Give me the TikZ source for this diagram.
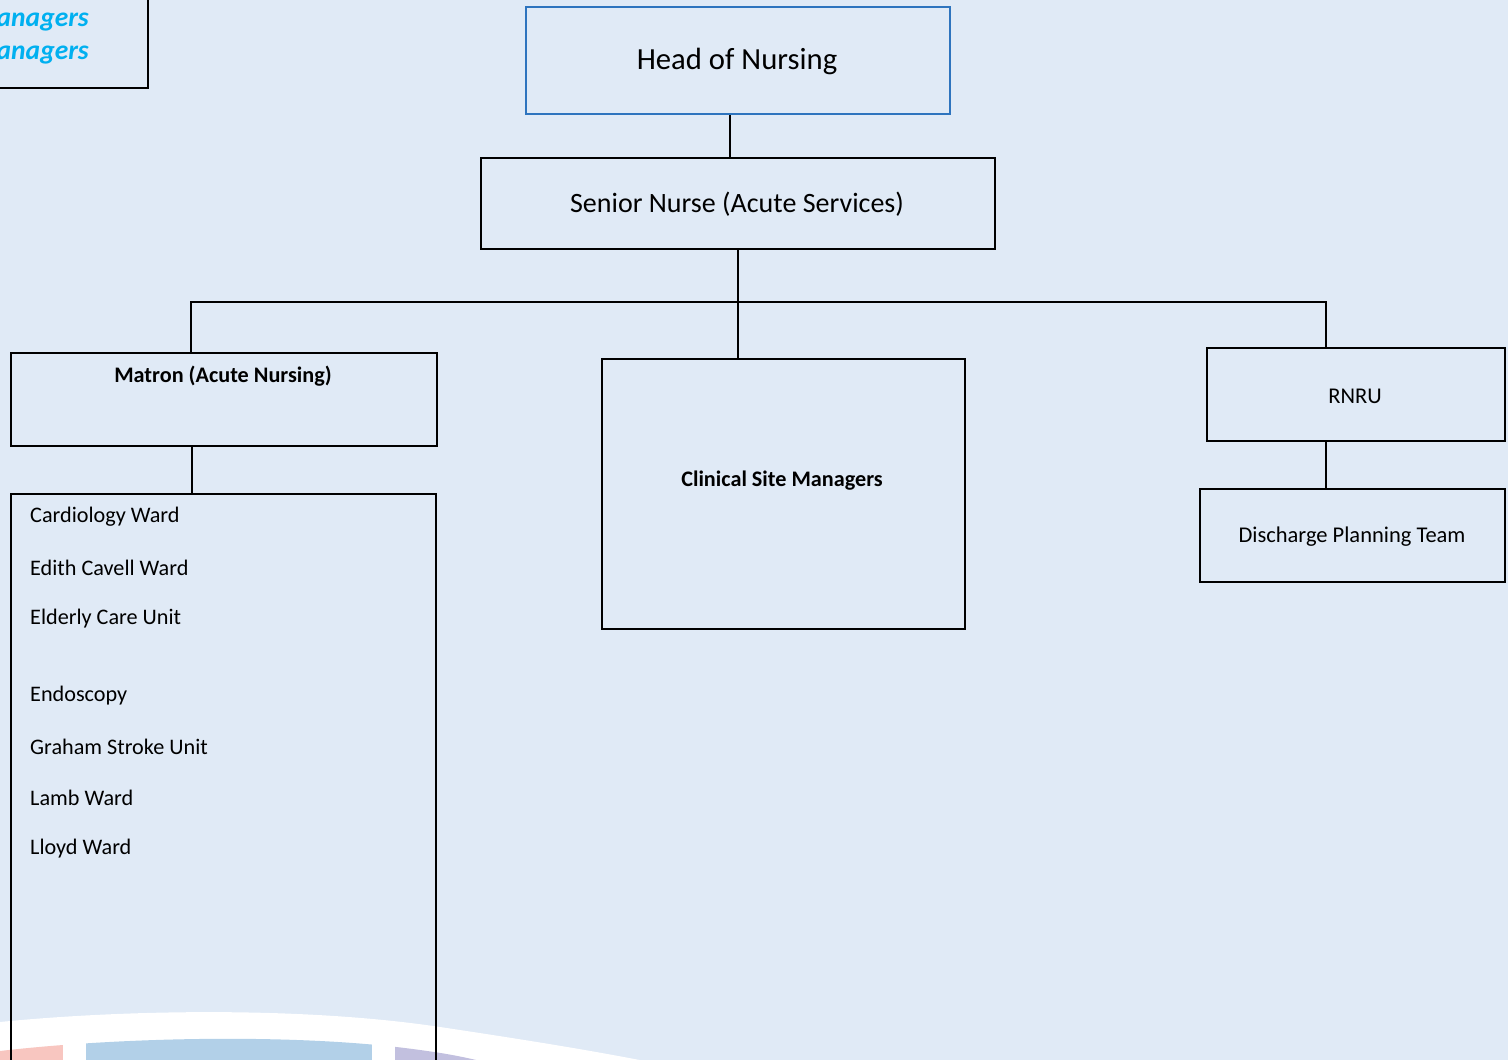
\documentclass[tikz,border=0pt]{standalone}
\usepackage{fontspec}
\setmainfont{Carlito}
\definecolor{bgc}{RGB}{224,234,246}
\definecolor{hblue}{RGB}{46,116,190}
\definecolor{cyantext}{RGB}{0,176,240}
\definecolor{pinkbar}{RGB}{248,198,192}
\definecolor{bluebar}{RGB}{178,208,232}
\definecolor{purplebar}{RGB}{194,192,223}
\tikzset{
  orgbox/.style={draw=black, line width=2pt, inner sep=0pt, anchor=north west},
  conn/.style={draw=black, line width=2pt},
  bigtext/.style={font=\fontsize{30.7}{36}\selectfont, inner sep=0pt},
  boldtext/.style={font=\fontsize{22.2}{26}\selectfont\bfseries, inner sep=0pt},
  plaintext/.style={font=\fontsize{22.5}{26}\selectfont, inner sep=0pt},
  item/.style={font=\fontsize{22.2}{26}\selectfont, inner sep=0pt, anchor=west},
  cyanitalic/.style={anchor=base east, inner sep=0pt, text=cyantext, font=\fontsize{27.5}{32}\selectfont\bfseries\itshape},
}
\begin{document}
\begin{tikzpicture}[x=1pt,y=-1pt]
\useasboundingbox (0,0) rectangle (1508,1060);
\clip (0,0) rectangle (1508,1060);
\fill[bgc] (0,0) rectangle (1508,1060);
% white band
\fill[white] (0,1022) .. controls (120,1010) and (300,1006) .. (440,1027)
  .. controls (540,1042) and (600,1052) .. (660,1064) -- (660,1080) -- (0,1080) -- cycle;
% coloured bars
\begin{scope}
\clip (0,1051) .. controls (120,1037) and (300,1033) .. (420,1050)
  .. controls (450,1054) and (470,1058) .. (500,1066) -- (500,1080) -- (0,1080) -- cycle;
\fill[pinkbar] (0,1000) rectangle (63,1080);
\fill[bluebar] (86,1000) rectangle (372,1080);
\fill[purplebar] (395,1000) rectangle (640,1080);
\end{scope}
% top-left partial box
\draw[conn] (-5,88) -- (148,88) -- (148,-5);
\node[cyanitalic] (tl1) at (89,27) {anagers};
\node[cyanitalic] (tl2) at (89,59) {anagers};
% boxes
\node[orgbox, draw=hblue, minimum width=424pt, minimum height=107pt] (hon) at (525,6) {};
\node[bigtext] (honT) at (737,61) {Head of Nursing};
\node[orgbox, minimum width=514pt, minimum height=91pt] (sn) at (480,157) {};
\node[bigtext, font=\fontsize{28}{33}\selectfont] (snT) at (737,204) {Senior Nurse (Acute Services)};
\node[orgbox, minimum width=426pt, minimum height=93pt] (mat) at (10,352) {};
\node[boldtext] (matT) at (223,376) {Matron (Acute Nursing)};
\node[orgbox, minimum width=363pt, minimum height=270pt] (csm) at (601,358) {};
\node[boldtext] (csmT) at (782,481) {Clinical Site Managers};
\node[orgbox, minimum width=298pt, minimum height=93pt] (rnru) at (1206,347) {};
\node[plaintext] (rnruT) at (1355,396) {RNRU};
\node[orgbox, minimum width=305pt, minimum height=93pt] (dpt) at (1199,488) {};
\node[plaintext] (dptT) at (1352,537) {Discharge Planning Team};
\node[orgbox, minimum width=425pt, minimum height=600pt] (wards) at (10,493) {};
\node[item] (w1) at (30,517) {Cardiology Ward};
\node[item] (w2) at (30,568) {Edith Cavell Ward};
\node[item] (w3) at (30,619) {Elderly Care Unit};
\node[item] (w4) at (30,696) {Endoscopy};
\node[item] (w5) at (30,747) {Graham Stroke Unit};
\node[item] (w6) at (30,798) {Lamb Ward};
\node[item] (w7) at (30,849) {Lloyd Ward};
% connectors
\coordinate (bus) at (sn.south |- 0,302);
\draw[conn] ([xshift=-8pt]hon.south) -- ([xshift=-8pt]hon.south |- sn.north);
\draw[conn] (sn.south) -- (bus);
\draw[conn] ([xshift=-33pt]mat.north) |- (bus) -| ([xshift=-30pt]rnru.north);
\draw[conn] (bus) -- (bus |- csm.north);
\draw[conn] ([xshift=-32pt]mat.south) -- ([xshift=-32pt]mat.south |- wards.north);
\draw[conn] ([xshift=-30pt]rnru.south) -- ([xshift=-30pt]rnru.south |- dpt.north);
\end{tikzpicture}
\end{document}
